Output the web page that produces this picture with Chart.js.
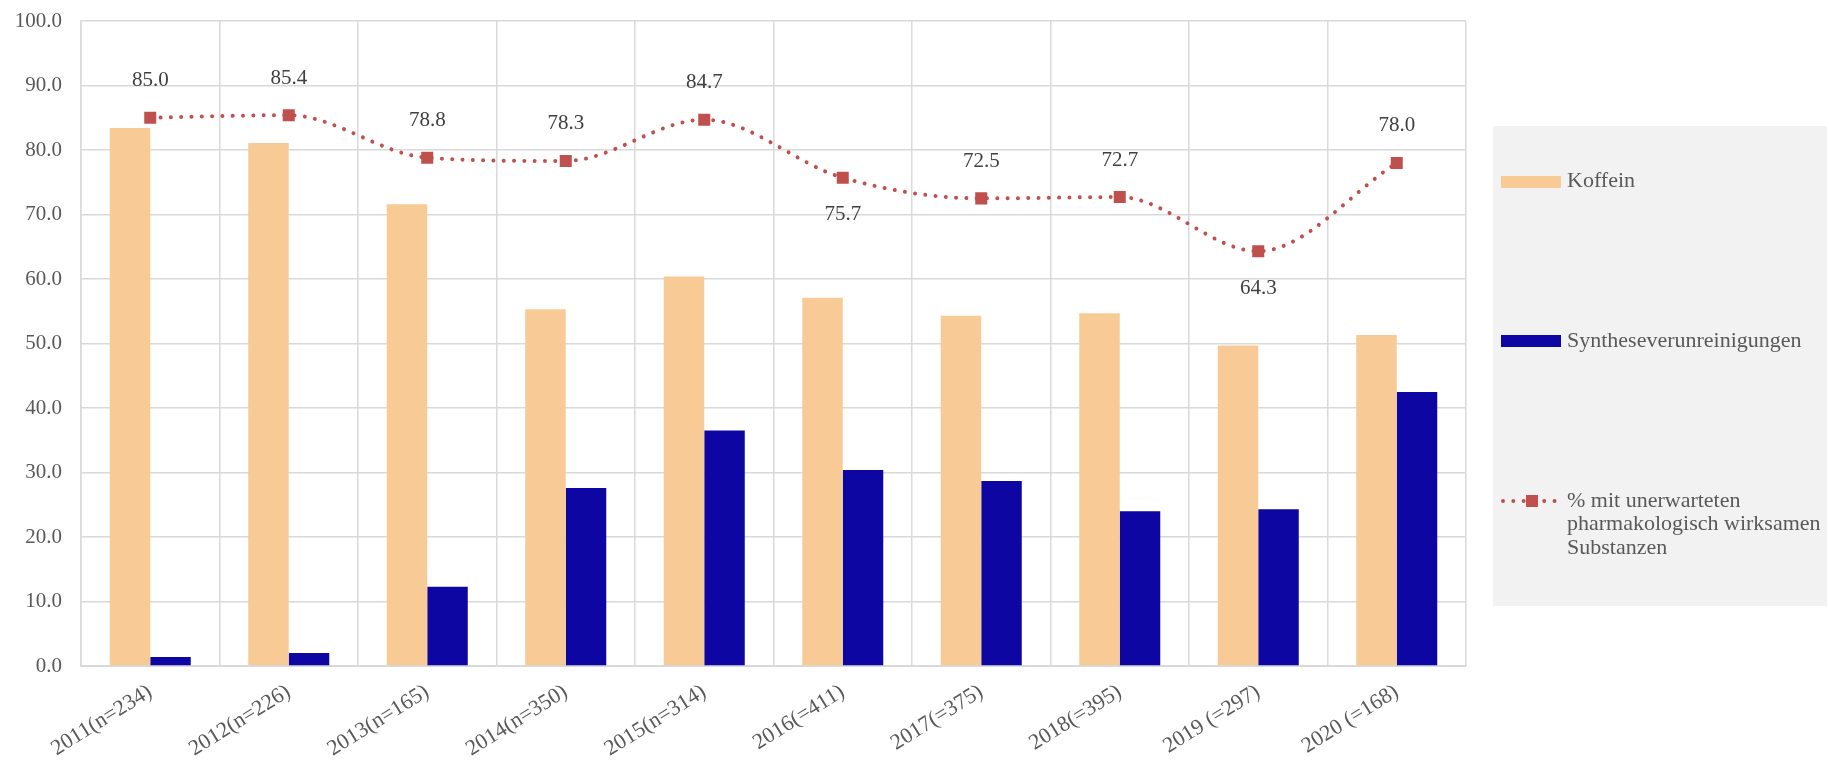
<!DOCTYPE html>
<html>
<head>
<meta charset="utf-8">
<script src="https://cdn.jsdelivr.net/npm/chart.js@4"></script>
<style>
  html, body { margin: 0; padding: 0; background: #fff; }
  #wrap { width: 1829px; height: 761px; position: relative; }
</style>
</head>
<body>
<div id="wrap"><canvas id="chart" width="1829" height="761"></canvas></div>
<script>
const categories = ['2011(n=234)', '2012(n=226)', '2013(n=165)', '2014(n=350)', '2015(n=314)',
                    '2016(=411)', '2017(=375)', '2018(=395)', '2019 (=297)', '2020 (=168)'];
const koffein = [83.4, 81.1, 71.6, 55.3, 60.4, 57.1, 54.3, 54.7, 49.7, 51.3];
const synthese = [1.4, 2.0, 12.3, 27.6, 36.5, 30.4, 28.7, 24.0, 24.3, 42.5];
const unerwartet = [85.0, 85.4, 78.8, 78.3, 84.7, 75.7, 72.5, 72.7, 64.3, 78.0];
const yTicks = [0, 10, 20, 30, 40, 50, 60, 70, 80, 90, 100];

const FONT = '"Liberation Serif", "DejaVu Serif", serif';
const TXT = '#595959';
const GRID = '#d9d9d9';
const RED = '#c0504d';

// labels for the line: which points get their value written below instead of above
const valueLabels = {
  id: 'valueLabels',
  afterDatasetsDraw(chart, args, opts) {
    const ctx = chart.ctx;
    const meta = chart.getDatasetMeta(0);
    ctx.save();
    ctx.font = '21px ' + FONT;
    ctx.fillStyle = '#404040';
    ctx.textAlign = 'center';
    ctx.textBaseline = 'middle';
    meta.data.forEach((pt, i) => {
      const v = chart.data.datasets[0].data[i];
      const dy = opts.below.includes(i) ? opts.offset : -opts.offset;
      ctx.fillText(v.toFixed(1), pt.x, pt.y + dy);
    });
    ctx.restore();
  }
};

// legend in a grey box at the right
const sideLegend = {
  id: 'sideLegend',
  afterDraw(chart) {
    const ctx = chart.ctx;
    const ds = chart.data.datasets;
    ctx.save();
    ctx.fillStyle = '#f2f2f2';
    ctx.fillRect(1493, 126, 334, 480);

    ctx.font = '22px ' + FONT;
    ctx.textAlign = 'left';
    ctx.textBaseline = 'middle';

    // Koffein
    ctx.fillStyle = ds[1].backgroundColor;
    ctx.fillRect(1501, 176, 60, 12);
    ctx.fillStyle = TXT;
    ctx.fillText(ds[1].label, 1567, 181);

    // Syntheseverunreinigungen
    ctx.fillStyle = ds[2].backgroundColor;
    ctx.fillRect(1501, 335, 60, 12);
    ctx.fillStyle = TXT;
    ctx.fillText(ds[2].label, 1567, 341);

    // line
    ctx.strokeStyle = RED;
    ctx.lineWidth = 4;
    ctx.lineCap = 'round';
    ctx.setLineDash([0.01, 10.3]);
    ctx.beginPath();
    ctx.moveTo(1503, 501);
    ctx.lineTo(1560, 501);
    ctx.stroke();
    ctx.setLineDash([]);
    ctx.fillStyle = RED;
    ctx.fillRect(1526, 495, 12, 12);
    ctx.fillStyle = TXT;
    ds[0].label.forEach((line, i) => ctx.fillText(line, 1567, 501 + i * 23.5));
    ctx.restore();
  }
};

new Chart(document.getElementById('chart'), {
  data: {
    labels: categories,
    datasets: [
      {
        type: 'line',
        label: ['% mit unerwarteten', 'pharmakologisch wirksamen', 'Substanzen'],
        data: unerwartet,
        borderColor: RED,
        borderWidth: 4,
        borderDash: [0.01, 10.3],
        borderCapStyle: 'round',
        cubicInterpolationMode: 'monotone',
        pointStyle: 'rect',
        pointRadius: 8.5,
        pointBackgroundColor: RED,
        pointBorderColor: RED,
        pointBorderWidth: 0,
        order: 0
      },
      {
        type: 'bar',
        label: 'Koffein',
        data: koffein,
        backgroundColor: '#f8cb96',
        categoryPercentage: 0.585,
        barPercentage: 1.0,
        order: 1
      },
      {
        type: 'bar',
        label: 'Syntheseverunreinigungen',
        data: synthese,
        backgroundColor: '#0e06a3',
        categoryPercentage: 0.585,
        barPercentage: 1.0,
        order: 2
      }
    ]
  },
  options: {
    responsive: false,
    animation: false,
    layout: { padding: { top: 21, right: 363, bottom: 0, left: 0 } },
    plugins: {
      legend: { display: false },
      tooltip: { enabled: false },
      valueLabels: { below: [5, 8], offset: 37 }
    },
    scales: {
      x: {
        offset: true,
        grid: { color: GRID, lineWidth: 1.5, offset: true, drawTicks: false },
        border: { color: GRID, width: 2 },
        ticks: {
          color: TXT,
          font: { family: FONT, size: 22 },
          minRotation: 32,
          maxRotation: 32,
          padding: 13,
          autoSkip: false
        },
        afterFit: s => { s.height = 95; }
      },
      y: {
        min: 0,
        max: 100,
        afterBuildTicks: s => { s.ticks = yTicks.map(v => ({ value: v })); },
        grid: { color: GRID, lineWidth: 1.5, drawTicks: false },
        border: { color: GRID, width: 1.5 },
        ticks: {
          color: TXT,
          font: { family: FONT, size: 21 },
          padding: 19,
          callback: v => v.toFixed(1)
        },
        afterFit: s => { s.width = 81; s.paddingTop = 0; s.paddingBottom = 0; }
      }
    }
  },
  plugins: [valueLabels, sideLegend]
});
</script>
</body>
</html>
